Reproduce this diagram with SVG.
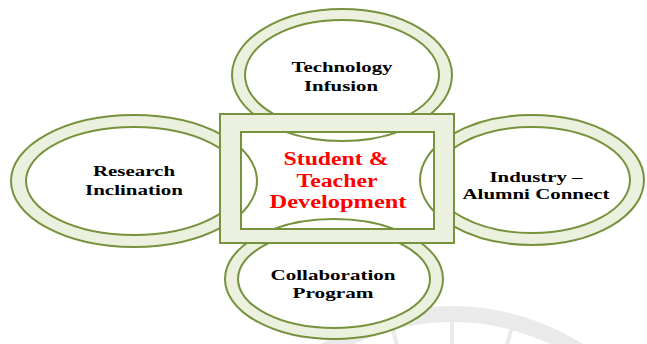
<svg xmlns="http://www.w3.org/2000/svg" width="647" height="344" viewBox="0 0 647 344">
  <style>
    .ring { fill: #EBF1DE; stroke: #76923C; stroke-width: 2; }
    .hole { fill: #FFFFFF; stroke: #76923C; stroke-width: 2; }
    .edge { fill: none; stroke: #76923C; stroke-width: 2; }
    .lbl { font-family: "Liberation Serif", "Times New Roman", serif; font-weight: bold; font-size: 15px; fill: #000000; text-anchor: middle; }
    .ctr { font-family: "Liberation Serif", "Times New Roman", serif; font-weight: bold; font-size: 18px; fill: #FF0000; text-anchor: middle; }
    .wm { fill: none; stroke: #C4C4C4; opacity: 0.35; }
  </style>
  <defs>
    <clipPath id="innerClip">
      <rect x="241" y="132" width="193" height="97"/>
    </clipPath>
  </defs>

  <!-- faint watermark -->
  <g id="watermark">
    <circle class="wm" cx="452" cy="550" r="236" stroke-width="16"/>
    <g class="wm" stroke-width="4" opacity="0.25">
      <line x1="452" y1="550" x2="452" y2="322" transform="rotate(-45 452 550)"/>
      <line x1="452" y1="550" x2="452" y2="322" transform="rotate(-30 452 550)"/>
      <line x1="452" y1="550" x2="452" y2="322" transform="rotate(-15 452 550)"/>
      <line x1="452" y1="550" x2="452" y2="322"/>
      <line x1="452" y1="550" x2="452" y2="322" transform="rotate(15 452 550)"/>
      <line x1="452" y1="550" x2="452" y2="322" transform="rotate(30 452 550)"/>
      <line x1="452" y1="550" x2="452" y2="322" transform="rotate(45 452 550)"/>
    </g>
  </g>

  <g id="node-collaboration">
    <ellipse class="ring" cx="334" cy="279" rx="109" ry="60"/>
    <ellipse class="hole" cx="334" cy="279" rx="96" ry="49"/>
  </g>
  <g id="node-research">
    <ellipse class="ring" cx="134" cy="181" rx="123" ry="66"/>
    <ellipse class="hole" cx="134" cy="181" rx="108" ry="54"/>
  </g>
  <g id="node-industry">
    <ellipse class="ring" cx="532" cy="180" rx="112" ry="65"/>
    <ellipse class="hole" cx="532" cy="180" rx="98" ry="53"/>
  </g>
  <g id="node-technology">
    <ellipse class="ring" cx="342" cy="75" rx="110" ry="66"/>
    <ellipse class="hole" cx="342" cy="75" rx="97" ry="55"/>
  </g>

  <g id="node-center">
    <rect class="ring" x="220" y="114" width="234" height="129"/>
    <rect class="hole" x="241" y="132" width="193" height="97"/>
    <g clip-path="url(#innerClip)">
      <ellipse class="edge" cx="342" cy="75" rx="110" ry="66"/>
      <ellipse class="edge" cx="134" cy="181" rx="123" ry="66"/>
      <ellipse class="edge" cx="532" cy="180" rx="112" ry="65"/>
      <ellipse class="edge" cx="334" cy="279" rx="109" ry="60"/>
    </g>
    <rect class="edge" x="241" y="132" width="193" height="97"/>
    <text class="ctr" x="336" y="165" textLength="105" lengthAdjust="spacingAndGlyphs">Student &amp;</text>
    <text class="ctr" x="337" y="187" textLength="81" lengthAdjust="spacingAndGlyphs">Teacher</text>
    <text class="ctr" x="338" y="208" textLength="137" lengthAdjust="spacingAndGlyphs">Development</text>
  </g>

  <g id="labels">
    <text class="lbl" x="342" y="72" textLength="101" lengthAdjust="spacingAndGlyphs">Technology</text>
    <text class="lbl" x="341" y="91" textLength="74" lengthAdjust="spacingAndGlyphs">Infusion</text>
    <text class="lbl" x="134" y="176" textLength="82" lengthAdjust="spacingAndGlyphs">Research</text>
    <text class="lbl" x="134" y="195" textLength="98" lengthAdjust="spacingAndGlyphs">Inclination</text>
    <text class="lbl" x="536" y="182" textLength="93" lengthAdjust="spacingAndGlyphs">Industry –</text>
    <text class="lbl" x="536" y="199" textLength="147" lengthAdjust="spacingAndGlyphs">Alumni Connect</text>
    <text class="lbl" x="333" y="280" textLength="125" lengthAdjust="spacingAndGlyphs">Collaboration</text>
    <text class="lbl" x="333" y="298" textLength="81" lengthAdjust="spacingAndGlyphs">Program</text>
  </g>
  <g id="connectors"></g>
</svg>
